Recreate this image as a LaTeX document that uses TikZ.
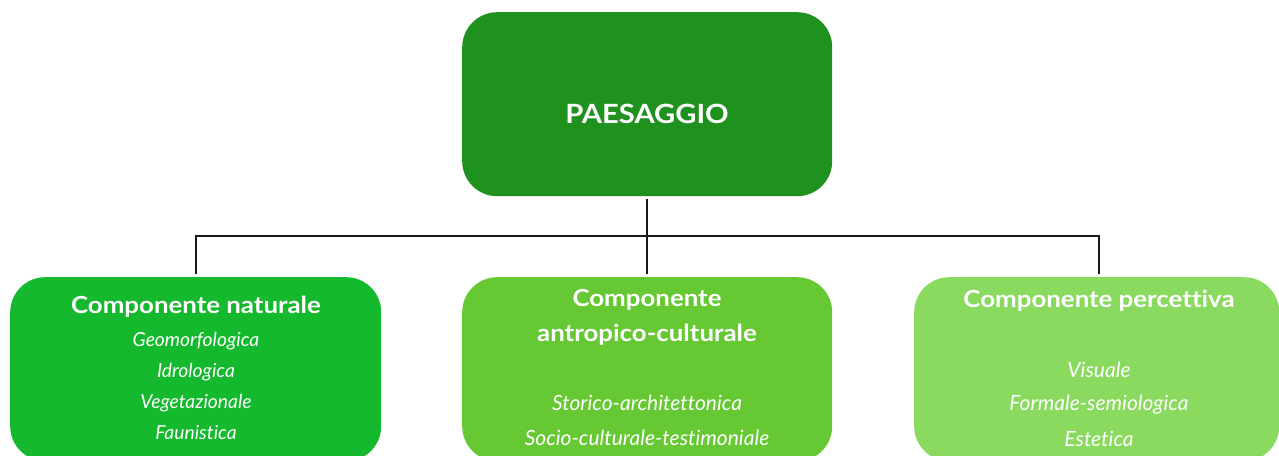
\documentclass[tikz,border=0pt]{standalone}
\usepackage{fontspec}
\setmainfont[Ligatures=NoCommon]{Lato}
\newfontfamily\widefont[FakeStretch=1.1,Ligatures=NoCommon]{Lato}
\definecolor{ctop}{RGB}{31,145,31}
\definecolor{cnat}{RGB}{20,185,45}
\definecolor{cant}{RGB}{102,200,50}
\definecolor{cper}{RGB}{137,218,94}
\begin{document}
\begin{tikzpicture}[x=1pt,y=-1pt,
  box/.style={rounded corners=35pt, minimum width=370pt, minimum height=184pt, anchor=north west, inner sep=0pt, draw=none},
  ttl/.style={text=white, font=\widefont\fontsize{23.5}{28}\selectfont\bfseries, anchor=base, inner sep=0pt},
  itm/.style={text=white, font=\fontsize{21}{25}\selectfont\itshape, anchor=base, inner sep=0pt},
  itmn/.style={itm, font=\fontsize{19.3}{23}\selectfont\itshape},
  conn/.style={draw=black!90, line width=2.2pt, shorten <=3pt, shorten >=3pt}]
\useasboundingbox (0,0) rectangle (1279,455);
\clip (0,0) rectangle (1279,455);
% boxes
\node[box, fill=ctop] (top) at (462,12) {};
\node[box, fill=cnat, minimum width=371pt] (nat) at (10,277) {};
\node[box, fill=cant] (ant) at (462,277) {};
\node[box, fill=cper, minimum width=365pt] (per) at (914,277) {};
% connectors
\coordinate (bar) at (647,236);
\draw[conn] (top.south) -- (ant.north);
\draw[conn] (nat.north) |- (bar) -| ([xshift=2.5pt]per.north);
% texts
\node[ttl, font=\widefont\fontsize{26.5}{30}\selectfont\bfseries] (tp) at (647,123) {PAESAGGIO};
\node[ttl] (n0) at (196,313) {Componente naturale};
\node[itmn] (n1) at (196,346) {Geomorfologica};
\node[itmn] (n2) at (196,377) {Idrologica};
\node[itmn] (n3) at (196,408) {Vegetazionale};
\node[itmn] (n4) at (196,439) {Faunistica};
\node[ttl] (a0) at (647,306) {Componente};
\node[ttl] (a1) at (647,341) {antropico-culturale};
\node[itm] (a2) at (647,410) {Storico-architettonica};
\node[itm] (a3) at (647,445) {Socio-culturale-testimoniale};
\node[ttl] (p0) at (1099,307) {Componente percettiva};
\node[itm] (p1) at (1099,377) {Visuale};
\node[itm] (p2) at (1099,410) {Formale-semiologica};
\node[itm] (p3) at (1099,446) {Estetica};
\end{tikzpicture}
\end{document}
